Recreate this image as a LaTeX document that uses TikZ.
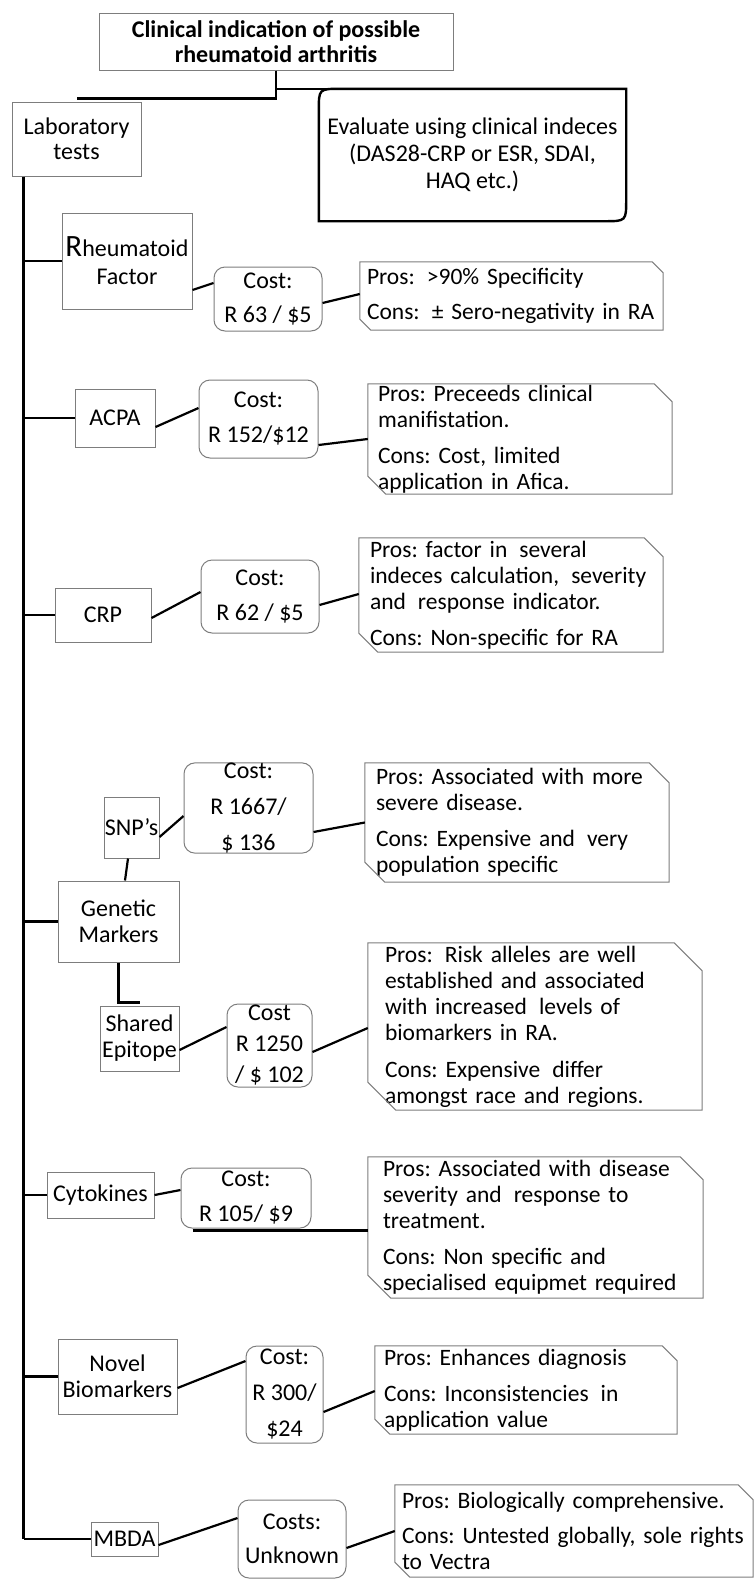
\documentclass[tikz,border=0pt]{standalone}
\usepackage{fontspec}
\setmainfont{Carlito}
\frenchspacing
\definecolor{bordergray}{RGB}{125,125,125}
\newcommand{\oneline}[1]{\mbox{#1}}
\newcommand{\dsp}{\hspace{0.18em} }
\newcommand{\snipframe}[2]{%
  \draw[prosframe] (#1.north west) -- ([xshift=-#2]#1.north east) -- ([yshift=-#2]#1.north east)
    -- (#1.south east) -- ([xshift=#2]#1.south west) -- ([yshift=#2]#1.south west) -- cycle;}
\begin{document}
\begin{tikzpicture}[x=1pt,y=-1pt,
  fs/.style={font=\fontsize{24}{26}\selectfont},
  box/.style={draw=bordergray, line width=1pt, inner sep=0pt, align=center, fs},
  costbox/.style={box, rounded corners=11pt, font=\fontsize{24}{35}\selectfont},
  pros/.style={inner ysep=0pt, align=left, font=\fontsize{23.5}{26}\selectfont},
  conn/.style={line width=2.2pt, black},
  prosframe/.style={draw=bordergray, line width=1pt},
  evframe/.style={draw=black, line width=2.4pt}
]
\useasboundingbox (0,0) rectangle (755,1580);

% top
\node[box, font=\bfseries\fontsize{24}{25}\selectfont, minimum width=354pt, minimum height=57pt] (title) at (276,41.5) {Clinical indication of possible\\rheumatoid arthritis};
\node[inner sep=0pt, align=center, minimum width=307pt, minimum height=132pt, font=\fontsize{24}{27}\selectfont] (ev) at (472.5,155) {Evaluate using clinical indeces\\(DAS28-CRP or ESR, SDAI,\\HAQ etc.)};
\draw[evframe] (ev.south west) -- ([yshift=-22pt]ev.north west) .. controls (ev.north west) .. ([xshift=22pt]ev.north west) -- (ev.north east) -- ([yshift=22pt]ev.south east) .. controls (ev.south east) .. ([xshift=-22pt]ev.south east) -- cycle;
\node[box, minimum width=129pt, minimum height=74pt, font=\fontsize{24}{25}\selectfont] (lab) at (76.5,139) {Laboratory\\tests};

% Rheumatoid factor
\node[box, minimum width=130pt, minimum height=96pt, font=\fontsize{24}{28}\selectfont] (rf) at (127,261) {{\fontsize{31}{28}\selectfont R}heumatoid\\Factor};
\node[costbox, minimum width=108pt, minimum height=64pt, font=\fontsize{24}{34}\selectfont] (rfc) at (268,299) {Cost:\\R 63 / \$5};
\node[pros, text width=289pt, inner xsep=7pt, minimum height=68pt] (rfp) at (511.5,296) {\oneline{Pros:\dsp >90\% Specificity}\\[9pt]\oneline{Cons:\dsp ± Sero-negativity in RA}};
\snipframe{rfp}{11pt}

% ACPA
\node[box, minimum width=80pt, minimum height=58pt] (acpa) at (115,418) {ACPA};
\node[costbox, minimum width=119pt, minimum height=78pt] (acpac) at (258.5,419) {Cost:\\R 152/\$12};
\node[pros, text width=284pt, inner xsep=10pt, minimum height=110pt] (acpap) at (520,439) {\oneline{Pros: Preceeds clinical}\\\oneline{manifistation.}\\[10pt]\oneline{Cons: Cost, limited}\\\oneline{application in Afica.}};
\snipframe{acpap}{18pt}

% CRP
\node[box, minimum width=96pt, minimum height=54pt] (crp) at (103,615) {CRP};
\node[costbox, minimum width=118pt, minimum height=73pt] (crpc) at (260,596.5) {Cost:\\R 62 / \$5};
\node[pros, text width=282pt, inner xsep=11pt, minimum height=114pt] (crpp) at (511,595) {\oneline{Pros: factor in\dsp several}\\\oneline{indeces calculation,\dsp severity}\\\oneline{and\dsp response indicator.}\\[10pt]\oneline{Cons: Non-specific for RA}};
\snipframe{crpp}{19pt}

% SNP
\node[box, minimum width=55pt, minimum height=61pt] (snp) at (131.5,827.5) {SNP{\char"0027}s};
\node[costbox, minimum width=129pt, minimum height=90pt, font=\fontsize{24}{36}\selectfont] (snpc) at (248.5,808) {Cost:\\R 1667/\\\$ 136};
\node[pros, text width=282pt, inner xsep=11pt, minimum height=119pt] (snpp) at (517,822.5) {\oneline{Pros: Associated with more}\\\oneline{severe disease.}\\[10pt]\oneline{Cons: Expensive and\dsp very}\\\oneline{population specific}};
\snipframe{snpp}{20pt}

% Genetic markers
\node[box, minimum width=121pt, minimum height=81pt] (gen) at (118.5,921.5) {Genetic\\Markers};

% Shared epitope
\node[box, minimum width=79pt, minimum height=65pt] (se) at (139.5,1038.5) {Shared\\Epitope};
\node[costbox, minimum width=85pt, minimum height=83pt, font=\fontsize{24}{31}\selectfont] (sec) at (269.5,1045.5) {Cost\\R 1250\\/ \$ 102};
\node[pros, text width=300pt, inner xsep=17pt, minimum height=167pt] (sep) at (535,1026.5) {\oneline{Pros:\dsp Risk alleles are well}\\\oneline{established and associated}\\\oneline{with increased\dsp levels of}\\\oneline{biomarkers in RA.}\\[11pt]\oneline{Cons: Expensive\dsp differ}\\\oneline{amongst race and regions.}};
\snipframe{sep}{28pt}

% Cytokines
\node[box, minimum width=107pt, minimum height=46pt] (cyt) at (100.5,1195) {Cytokines};
\node[costbox, minimum width=130pt, minimum height=60pt] (cytc) at (246,1198) {Cost:\\R 105/ \$9};
\node[pros, text width=305pt, inner xsep=15pt, minimum height=141pt] (cytp) at (535.5,1227.5) {\oneline{Pros: Associated with disease}\\\oneline{severity and\dsp response to}\\\oneline{treatment.}\\[10pt]\oneline{Cons: Non specific and}\\\oneline{specialised equipmet required}};
\snipframe{cytp}{23pt}

% Novel biomarkers
\node[box, minimum width=119pt, minimum height=75pt] (nov) at (117.5,1376.5) {Novel\\Biomarkers};
\node[costbox, minimum width=77pt, minimum height=97pt, font=\fontsize{24}{36}\selectfont] (novc) at (284.5,1394.5) {Cost:\\R 300/\\\$24};
\node[pros, text width=284pt, inner xsep=9pt, minimum height=88pt] (novp) at (526,1390) {\oneline{Pros: Enhances diagnosis}\\[10pt]\oneline{Cons: Inconsistencies\dsp in}\\\oneline{application value}};
\snipframe{novp}{15pt}

% MBDA
\node[box, minimum width=67pt, minimum height=34pt] (mb) at (124.5,1539) {MBDA};
\node[costbox, minimum width=108pt, minimum height=78pt, font=\fontsize{24}{34}\selectfont] (mbc) at (292,1539) {Costs:\\Unknown};
\node[pros, text width=344pt, inner xsep=7pt, minimum height=92pt] (mbp) at (574,1531) {\oneline{Pros: Biologically comprehensive.}\\[9pt]\oneline{Cons: Untested globally, sole rights}\\\oneline{to Vectra}};
\snipframe{mbp}{15pt}

% connectors at the top
\draw[conn] (title.south) |- (ev.north east);
\draw[conn] (title.south) |- ([yshift=3pt]lab.north);

% spine
\coordinate (spt) at ([xshift=12pt]lab.south west);
\draw[conn] (spt) -- (spt |- mb.west);
\foreach \n in {rf,acpa,crp,gen,cyt,nov,mb} {
  \draw[conn] (spt |- \n.west) -- (\n.west);
}

% branch connectors
\draw[conn] ([yshift=-29pt]rf.east) -- ([yshift=16pt]rfc.west);
\draw[conn] ([yshift=-4pt]rfc.east) -- ([yshift=2pt]rfp.west);
\draw[conn] ([yshift=-9pt]acpa.east) -- ([yshift=11pt]acpac.west);
\draw[conn] ([yshift=-26pt]acpac.east) -- (acpap.west);
\draw[conn] ([yshift=-3pt]crp.east) -- ([yshift=4.5pt]crpc.west);
\draw[conn] ([yshift=-8.5pt]crpc.east) -- ([yshift=1pt]crpp.west);
\draw[conn] ([yshift=-9.5pt]snp.east) -- ([yshift=-8pt]snpc.west);
\draw[conn] ([yshift=-24pt]snpc.east) -- (snpp.west);
\draw[conn] ([xshift=-3.5pt]snp.south) -- ([xshift=6.5pt]gen.north);
\draw[conn] (gen.south) |- ([yshift=3pt]se.north);
\draw[conn] ([yshift=-11.5pt]se.east) -- ([yshift=18.5pt]sec.west);
\draw[conn] ([yshift=-6.5pt]sec.east) -- ([yshift=-1.5pt]sep.west);
\draw[conn] (cyt.east) -- ([yshift=8pt]cytc.west);
\coordinate (cytj) at ([xshift=12pt,yshift=-2pt]cytc.south west);
\draw[conn] (cytj) -- (cytj -| cytp.west);
\draw[conn] ([yshift=-11.5pt]nov.east) -- ([yshift=33.5pt]novc.west);
\draw[conn] ([yshift=-17.5pt]novc.east) -- ([yshift=-1pt]novp.west);
\draw[conn] ([yshift=-6pt]mb.east) -- ([yshift=21pt]mbc.west);
\draw[conn] ([yshift=-9pt]mbc.east) -- (mbp.west);
\end{tikzpicture}
\end{document}
